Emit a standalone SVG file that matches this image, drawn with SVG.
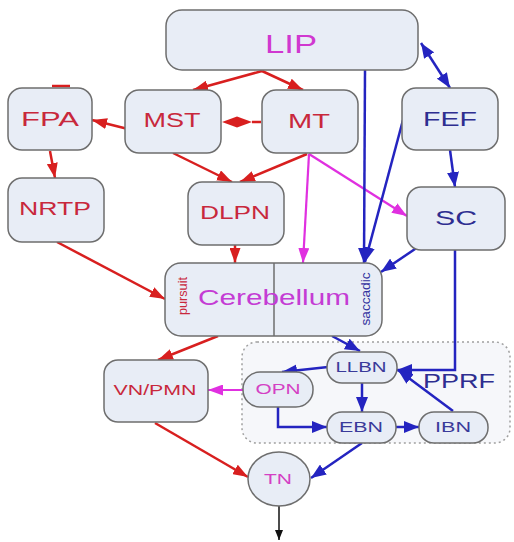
<svg xmlns="http://www.w3.org/2000/svg" width="514" height="542" viewBox="0 0 514 542">
<style>
.node{fill:#e8edf6;stroke:#6e6e6e;stroke-width:1.5}
text{font-family:"Liberation Sans",Arial,sans-serif;text-anchor:middle}
.r{fill:#c8283c}.m{fill:#cc3cc8}.b{fill:#2e2e90}
.er{stroke:#d81f1f;stroke-width:2.5;fill:none;marker-end:url(#ar)}
.em{stroke:#e030e0;stroke-width:2.2;fill:none;marker-end:url(#am)}
.eb{stroke:#2424c0;stroke-width:2.5;fill:none;marker-end:url(#ab)}
</style>
<defs>
<marker id="ar" markerUnits="userSpaceOnUse" markerWidth="15" markerHeight="11" viewBox="0 0 15 11" refX="15" refY="5.5" orient="auto-start-reverse"><path d="M0,0L15,5.5L0,11z" fill="#d81f1f"/></marker>
<marker id="am" markerUnits="userSpaceOnUse" markerWidth="15" markerHeight="11" viewBox="0 0 15 11" refX="15" refY="5.5" orient="auto"><path d="M0,0L15,5.5L0,11z" fill="#e030e0"/></marker>
<marker id="ab" markerUnits="userSpaceOnUse" markerWidth="15" markerHeight="12" viewBox="0 0 15 12" refX="15" refY="6" orient="auto-start-reverse"><path d="M0,0L15,6L0,12z" fill="#2424c0"/></marker>
<marker id="ak" markerUnits="userSpaceOnUse" markerWidth="10" markerHeight="8" viewBox="0 0 10 8" refX="10" refY="4" orient="auto"><path d="M0,0L10,4L0,8z" fill="#111"/></marker>
</defs>

<g id="pprf">
<rect x="242" y="342" width="268" height="101" rx="15" fill="#f6f7fa" stroke="#a0a0a0" stroke-width="1.5" stroke-dasharray="2 3"/>
<text x="459" y="388" font-size="21" class="b" textLength="72" lengthAdjust="spacingAndGlyphs">PPRF</text>
</g>

<g id="connectors">
<path class="er" d="M262,71 L193,90"/>
<path class="er" d="M262,71 L303,90"/>
<path d="M52,86 L70,86" stroke="#d81f1f" stroke-width="2.5"/>
<path class="er" d="M136,131 L92,120"/>
<path d="M252,122 L261,122" stroke="#d81f1f" stroke-width="2.5"/>
<polygon points="222,122 237,116.5 252,122 237,127.5" fill="#d81f1f"/>
<path class="er" d="M50,151 L55,178"/>
<path class="er" d="M173,153 L232,182"/>
<path class="er" d="M307,154 L240,182"/>
<path class="er" d="M235,245 L235,263"/>
<path class="er" d="M57,242 L165,299"/>
<path class="er" d="M218,336 L158,360"/>
<path class="er" d="M155,423 L248,477"/>
<path class="em" d="M309,154 L303,263"/>
<path class="em" d="M309,154 L407,216"/>
<path class="em" d="M243,390 L208,390"/>
<path class="eb" style="marker-start:url(#ab)" d="M421,43 L450,88"/>
<path class="eb" d="M365,70 L364,263" stroke="#1c1ca8"/>
<path class="eb" d="M403,120 L365,262"/>
<path class="eb" d="M450,150 L455,187"/>
<path class="eb" d="M418,247 L381,272"/>
<path class="eb" d="M455,250 L455,370 L397,370"/>
<path class="eb" d="M453,411 L398,370"/>
<path class="eb" d="M332,336 L360,351"/>
<path class="eb" d="M328,367 L282,372"/>
<path class="eb" d="M362,383 L362,412"/>
<path class="eb" d="M278,407 L278,427 L327,427"/>
<path class="eb" d="M396,427 L419,427"/>
<path class="eb" d="M362,443 L311,478"/>
<path d="M279,506 L279,540" stroke="#111" stroke-width="1.5" marker-end="url(#ak)"/>
</g>

<g id="LIP"><rect class="node" x="166" y="10" width="252" height="60" rx="16"/><text x="291" y="53" font-size="26" fill="#d038d0" textLength="52" lengthAdjust="spacingAndGlyphs">LIP</text></g>
<g id="FPA"><rect class="node" x="8" y="88" width="84" height="62" rx="14"/><text x="50" y="126" font-size="21" class="r" textLength="58" lengthAdjust="spacingAndGlyphs">FPA</text></g>
<g id="MST"><rect class="node" x="125" y="90" width="96" height="63" rx="14"/><text x="172" y="127" font-size="21" class="r" textLength="57" lengthAdjust="spacingAndGlyphs">MST</text></g>
<g id="MT"><rect class="node" x="262" y="90" width="96" height="63" rx="14"/><text x="309" y="128" font-size="21" class="r" textLength="42" lengthAdjust="spacingAndGlyphs">MT</text></g>
<g id="FEF"><rect class="node" x="402" y="88" width="96" height="62" rx="14"/><text x="450" y="126" font-size="21" class="b" textLength="54" lengthAdjust="spacingAndGlyphs">FEF</text></g>
<g id="NRTP"><rect class="node" x="8" y="178" width="96" height="64" rx="14"/><text x="55" y="215" font-size="18" class="r" textLength="72" lengthAdjust="spacingAndGlyphs">NRTP</text></g>
<g id="DLPN"><rect class="node" x="188" y="182" width="96" height="63" rx="14"/><text x="235" y="219" font-size="18" class="r" textLength="70" lengthAdjust="spacingAndGlyphs">DLPN</text></g>
<g id="SC"><rect class="node" x="407" y="187" width="98" height="63" rx="14"/><text x="456" y="225" font-size="21" class="b" textLength="42" lengthAdjust="spacingAndGlyphs">SC</text></g>
<g id="Cerebellum"><rect class="node" x="165" y="263" width="217" height="73" rx="16"/><line x1="274" y1="263" x2="274" y2="336" stroke="#6e6e6e" stroke-width="1.5"/>
<text x="274" y="305" font-size="22" fill="#c43cd4" textLength="152" lengthAdjust="spacingAndGlyphs">Cerebellum</text>
<text transform="translate(187,296) rotate(-90)" font-size="12" class="r" textLength="38" lengthAdjust="spacingAndGlyphs">pursuit</text>
<text transform="translate(370,299) rotate(-90)" font-size="12" fill="#3434a0" textLength="53" lengthAdjust="spacingAndGlyphs">saccadic</text></g>
<g id="VNPMN"><rect class="node" x="104" y="360" width="104" height="62" rx="14"/><text x="155" y="395" font-size="14" class="r" textLength="83" lengthAdjust="spacingAndGlyphs">VN/PMN</text></g>
<g id="OPN"><rect class="node" x="243" y="372" width="70" height="35" rx="17"/><text x="278" y="394" font-size="14" fill="#d440c4" textLength="45" lengthAdjust="spacingAndGlyphs">OPN</text></g>
<g id="LLBN"><rect class="node" x="327" y="352" width="70" height="31" rx="15"/><text x="361" y="372" font-size="14" fill="#3a3a9a" textLength="51" lengthAdjust="spacingAndGlyphs">LLBN</text></g>
<g id="EBN"><rect class="node" x="327" y="412" width="69" height="31" rx="15"/><text x="361" y="432" font-size="14" fill="#3a3a9a" textLength="44" lengthAdjust="spacingAndGlyphs">EBN</text></g>
<g id="IBN"><rect class="node" x="419" y="412" width="69" height="31" rx="15"/><text x="453" y="432" font-size="14" fill="#3a3a9a" textLength="36" lengthAdjust="spacingAndGlyphs">IBN</text></g>
<g id="TN"><ellipse class="node" cx="279" cy="479" rx="31" ry="27"/><text x="278" y="484" font-size="14" fill="#d440c4" textLength="28" lengthAdjust="spacingAndGlyphs">TN</text></g>
</svg>
